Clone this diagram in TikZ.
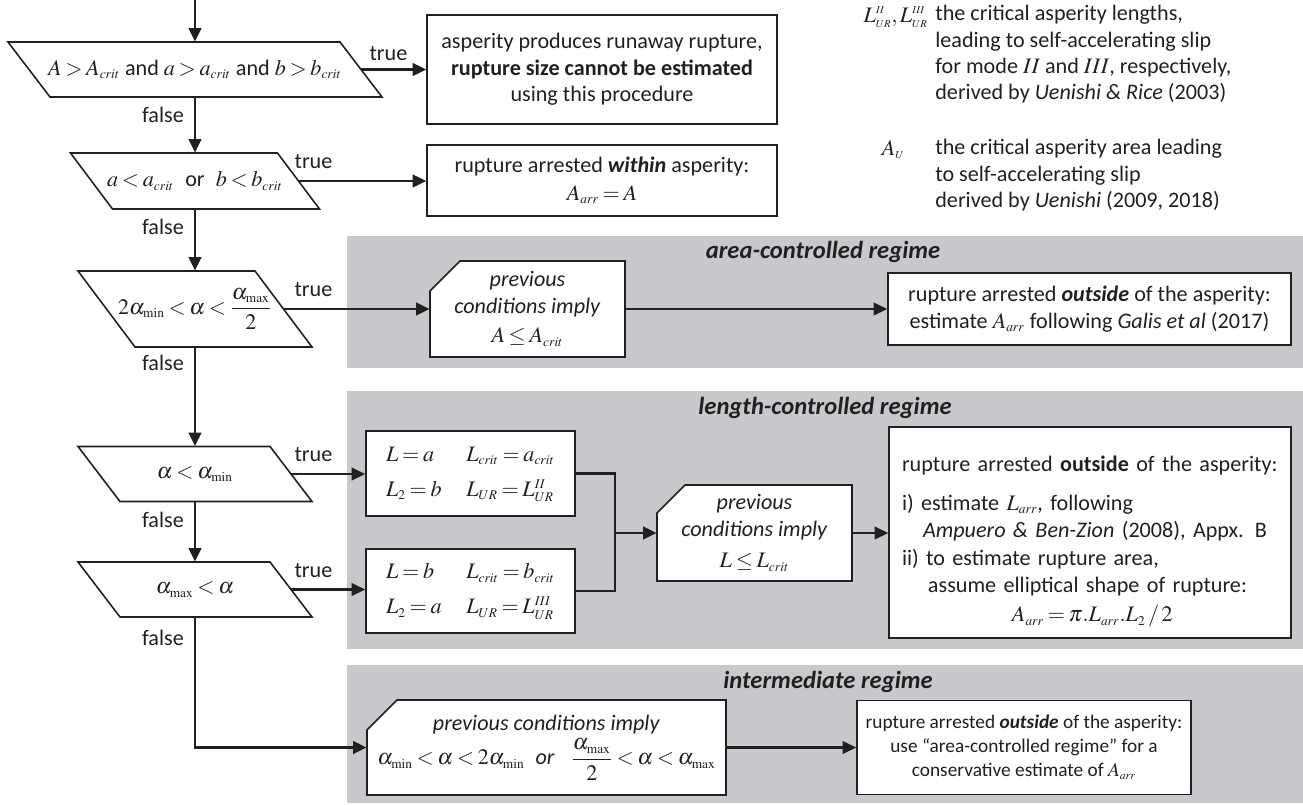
\documentclass[tikz,border=0pt]{standalone}
\usepackage{mathptmx}
\usepackage[no-math]{fontspec}
\setmainfont{Carlito}
\usetikzlibrary{arrows.meta}
\DeclareMathSizes{12.6}{12.6}{7.6}{6}
\DeclareMathSizes{11}{11}{6.6}{5.5}
\AtBeginDocument{\thickmuskip=3mu plus 2mu\medmuskip=2.5mu plus 1mu}
\definecolor{ink}{RGB}{35,31,32}
\definecolor{panel}{RGB}{200,201,204}
\tikzset{
  txt/.style={font=\fontsize{12.6}{15}\selectfont, text=ink},
  smalltxt/.style={font=\fontsize{11}{13.6}\selectfont, text=ink},
  box/.style={txt, draw=ink, line width=0.9pt, fill=white, align=center, inner sep=0pt},
  arr/.style={draw=ink, line width=1.4pt, -{Triangle[length=0.27cm,width=0.25cm]}},
  conn/.style={draw=ink, line width=1.4pt},
  tlbl/.style={txt, inner sep=0pt, anchor=south west, pos=0},
  flbl/.style={txt, inner sep=0pt, anchor=east, xshift=-0.2cm},
  regtitle/.style={text=ink, font=\fontsize{14}{16}\selectfont\bfseries\itshape},
}
\newcommand\ssc[1]{{\scriptscriptstyle #1}}
% parallelogram decision: name, x, y, mid width, height, slant, text
\newcommand\decnode[7]{%
  \draw[draw=ink, line width=0.9pt, fill=white]
    ({#2-#4/2-#6/2},{#3-#5/2}) -- ({#2+#4/2-#6/2},{#3-#5/2}) --
    ({#2+#4/2+#6/2},{#3+#5/2}) -- ({#2-#4/2+#6/2},{#3+#5/2}) -- cycle;
  \node[txt, inner sep=0pt, minimum width={#4*0.02cm}, minimum height={#5*0.02cm}] (#1) at (#2,#3) {#7};}
% card with cut corner: name, x, y, width, height, cut, text
\newcommand\cardnode[7]{%
  \draw[draw=ink, line width=0.9pt, fill=white]
    ({#2-#4/2},{#3-#5/2+#6}) -- ({#2-#4/2+#6},{#3-#5/2}) -- ({#2+#4/2},{#3-#5/2}) --
    ({#2+#4/2},{#3+#5/2}) -- ({#2-#4/2},{#3+#5/2}) -- cycle;
  \node[txt, align=center, inner sep=0pt, minimum width={#4*0.02cm}, minimum height={#5*0.02cm}] (#1) at (#2,#3) {#7};}
\begin{document}
\begin{tikzpicture}[x=0.02cm, y=-0.02cm]
\useasboundingbox (0,0) rectangle (1303,805);
% panels
\fill[panel] (347,236) rectangle (1303,368);
\fill[panel] (347,391) rectangle (1303,649);
\fill[panel] (347,665) rectangle (1303,803);
\node[regtitle] (t1) at (823,252) {area-controlled regime};
\node[regtitle] (t2) at (825,408) {length-controlled regime};
\node[regtitle] (t3) at (828,682) {intermediate regime};

% decisions
\coordinate (start) at (195,0);
\decnode{d1}{195}{69.5}{332}{55}{42}{$A > A_{crit}$ and $a > a_{crit}$ and $b > b_{crit}$}
\decnode{d2}{195}{181}{207}{56}{42}{$a < a_{crit}$\enspace or\enspace $b < b_{crit}$}
\decnode{d3}{195}{309}{177}{76}{57}{$2\alpha_{\mathrm{min}} < \alpha < {\displaystyle\frac{\alpha_{\mathrm{max}}}{2}}$}
\decnode{d4}{195}{474}{192}{55}{42}{$\alpha < \alpha_{\mathrm{min}}$}
\decnode{d5}{195}{589.5}{192}{55}{42}{$\alpha_{\mathrm{max}} < \alpha$}

% outcome boxes
\node[box, minimum width=7cm, minimum height={109*0.02cm}] (b1) at (602,69.5)
  {asperity produces runaway rupture,\\ \textbf{rupture size cannot be estimated}\\ using this procedure};
\node[box, minimum width=7cm, minimum height={71*0.02cm}] (b2) at (602,180.5)
  {rupture arrested \textbf{\textit{within}} asperity:\\[1pt] $A_{arr} = A$};

\cardnode{p1}{527.5}{309}{195}{96}{30}{\textit{previous}\\ \textit{conditions imply}\\[2pt] $A \le A_{crit}$}
\node[box, minimum width={403*0.02cm}, minimum height={72*0.02cm}] (r1) at (1089.5,309)
  {rupture arrested \textbf{\textit{outside}} of the asperity:\\ estimate $A_{arr}$ following \textit{Galis et al} (2017)};

\node[box, minimum width={209*0.02cm}, minimum height={85*0.02cm}] (l1) at (470.5,473.5)
  {\begin{tabular}{@{}l@{\hspace{14pt}}l@{}}$L = a$ & $L_{crit} = a_{crit}$\\[5pt] $L_2 = b$ & $L_{UR} = L_{UR}^{II}$\end{tabular}};
\node[box, minimum width={209*0.02cm}, minimum height={84*0.02cm}] (l2) at (470.5,591)
  {\begin{tabular}{@{}l@{\hspace{14pt}}l@{}}$L = b$ & $L_{crit} = b_{crit}$\\[5pt] $L_2 = a$ & $L_{UR} = L_{UR}^{III}$\end{tabular}};
\coordinate (j) at (615,533);
\cardnode{p2}{754.5}{533}{195}{96}{28}{\textit{previous}\\ \textit{conditions imply}\\[3pt] $L \le L_{crit}$}
\node[box, align=left, font=\fontsize{12.6}{15.6}\selectfont, text width={376*0.02cm}, inner xsep={13*0.02cm}, minimum height={211*0.02cm}] (r2) at (1090,532.5)
  {\rule{0pt}{19.5pt}rupture arrested \textbf{outside} of the asperity:\\[0.22cm]
   i) estimate $L_{arr}$, following\\
   \hspace*{0.42cm}\textit{Ampuero \& Ben-Zion} (2008), Appx. B\\
   ii) to estimate rupture area,\\
   \hspace*{0.52cm}assume elliptical shape of rupture:\\[1pt]
   \hspace*{2.2cm}$A_{arr} = \pi . L_{arr} . L_2 \,/\, 2$};

\cardnode{p3}{546.5}{747.5}{359}{95}{30}{\textit{previous conditions imply}\\[2pt]
  $\alpha_{\mathrm{min}} < \alpha < 2\alpha_{\mathrm{min}}$\enspace \textit{or}\enspace\ ${\displaystyle\frac{\alpha_{\mathrm{max}}}{2}} < \alpha < \alpha_{\mathrm{max}}$}
\node[box, smalltxt, minimum width={334*0.02cm}, minimum height={94*0.02cm}] (r3) at (1024,747.5)
  {rupture arrested \textbf{\textit{outside}} of the asperity:\\ use “area-controlled regime” for a\\ conservative estimate of $A_{arr}$};

% legend
\node[txt, anchor=base east, inner sep=0pt] (sym1) at (928,22) {$L^{\ssc{II}}_{\ssc{UR}}, L^{\ssc{III}}_{\ssc{UR}}$};
\node[txt, anchor=north west, inner sep=0pt, align=left] (leg1) at (935,5)
  {the critical asperity lengths,\\ leading to self-accelerating slip\\ for mode $II$ and $III$, respectively,\\ derived by \textit{Uenishi \& Rice} (2003)};
\node[txt, anchor=base, inner sep=0pt] (sym2) at (893,155) {$A_{\ssc{U}}$};
\node[txt, anchor=north west, inner sep=0pt, align=left] (leg2) at (935,139)
  {the critical asperity area leading\\ to self-accelerating slip\\ derived by \textit{Uenishi} (2009, 2018)};

% connectors
\draw[arr] (start) -- (d1.north);
\draw[arr] (d1.east) -- node[tlbl, xshift=0.14cm, yshift=0.16cm] {true} (d1.east -| b1.west);
\draw[arr] (d1.south) -- node[flbl, pos=0.32] {false} (d2.north);
\draw[arr] (d2.east) -- node[tlbl, xshift=-0.11cm, yshift=0.22cm] {true} (d2.east -| b2.west);
\draw[arr] (d2.south) -- node[flbl, pos=0.29] {false} (d3.north);
\draw[arr] (d3.east) -- node[tlbl, xshift=0.19cm, yshift=0.22cm] {true} (d3.east -| p1.west);
\draw[arr] (p1.east) -- (p1.east -| r1.west);
\draw[arr] (d3.south) -- node[flbl, pos=0.16] {false} (d4.north);
\draw[arr] (d4.east) -- node[tlbl, xshift=0.04cm, yshift=0.22cm] {true} (d4.east -| l1.west);
\draw[arr] (d4.south) -- node[flbl, pos=0.31] {false} (d5.north);
\draw[arr] (d5.east) -- node[tlbl, xshift=0.04cm, yshift=0.22cm] {true} (d5.east -| l2.west);
\draw[conn] (l1.east) -| (j);
\draw[conn] (l2.east) -| (j);
\draw[arr] (j) -- (p2.west);
\draw[arr] (p2.east) -- (p2.east -| r2.west);
\draw[arr] (d5.south) |- node[flbl, pos=0.08] {false} (p3.west);
\draw[arr] (p3.east) -- (p3.east -| r3.west);
\end{tikzpicture}
\end{document}
